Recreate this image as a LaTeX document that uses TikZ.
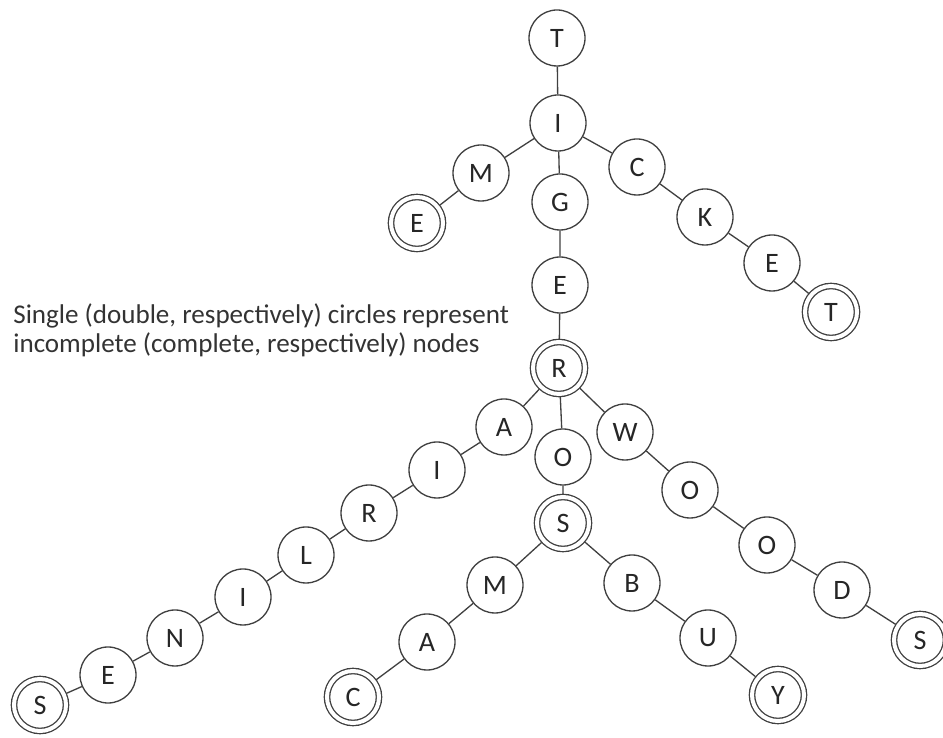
\documentclass[tikz,border=0pt]{standalone}
\usepackage{fontspec}
\setmainfont{Carlito}
\usepackage{tikz}

\begin{document}
\begin{tikzpicture}[
  letter/.style={draw=black!75,line width=0.75pt,circle,minimum size=1.12cm,inner sep=0pt,font=\fontsize{16}{18}\selectfont,text=black!85},
  final/.style={letter,double,double distance=0.08cm,minimum size=1.04cm,outer sep=0.06cm},
  link/.style={draw=black!75,line width=0.75pt}]
\useasboundingbox (0,0) rectangle (18.86,14.76);

% T-I-...
\node [letter] (t1) at (11.14,14.00) {T};
\node [letter] (i1) at (11.16,12.30) {I};
\node [letter] (m1) at (9.62,11.30) {M};
\node [final] (e1) at (8.34,10.30) {E};
\node [letter] (g) at (11.20,10.72) {G};
\node [letter] (c1) at (12.74,11.42) {C};
\node [letter] (k) at (14.10,10.42) {K};
\node [letter] (e2) at (15.44,9.50) {E};
\node [final] (t2) at (16.62,8.52) {T};
\node [letter] (e3) at (11.20,9.06) {E};
\node [final] (r1) at (11.18,7.40) {R};

% R-A-I-L-...
\node [letter] (a1) at (10.08,6.22) {A};
\node [letter] (i2) at (8.74,5.36) {I};
\node [letter] (r2) at (7.38,4.50) {R};
\node [letter] (l) at (6.12,3.66) {L};
\node [letter] (i3) at (4.86,2.82) {I};
\node [letter] (n) at (3.50,2.00) {N};
\node [letter] (e4) at (2.16,1.26) {E};
\node [final] (s1) at (0.80,0.66) {S};

% R-O-S and below
\node [letter] (o1) at (11.26,5.62) {O};
\node [final] (s2) at (11.26,4.30) {S};
\node [letter] (m2) at (9.90,3.06) {M};
\node [letter] (a2) at (8.54,1.92) {A};
\node [final] (c2) at (7.06,0.82) {C};
\node [letter] (b) at (12.64,3.10) {B};
\node [letter] (u) at (14.16,2.00) {U};
\node [final] (y) at (15.56,0.86) {Y};

% R-W-O-O-D-S
\node [letter] (w) at (12.50,6.12) {W};
\node [letter] (o2) at (13.80,4.96) {O};
\node [letter] (o3) at (15.34,3.86) {O};
\node [letter] (d) at (16.84,2.96) {D};
\node [final] (s3) at (18.40,1.96) {S};

\draw [link] (t1) -- (i1);
\draw [link] (i1) -- (m1) -- (e1);
\draw [link] (i1) -- (g) -- (e3) -- (r1);
\draw [link] (i1) -- (c1) -- (k) -- (e2) -- (t2);
\draw [link] (r1) -- (a1) -- (i2) -- (r2) -- (l) -- (i3) -- (n) -- (e4) -- (s1);
\draw [link] (r1) -- (o1) -- (s2);
\draw [link] (s2) -- (m2) -- (a2) -- (c2);
\draw [link] (s2) -- (b) -- (u) -- (y);
\draw [link] (r1) -- (w) -- (o2) -- (o3) -- (d) -- (s3);

\node [font=\fontsize{15.4}{16.5}\selectfont,align=left,anchor=west,inner sep=0pt,text=black!80] (note) at (0.26,8.16)
  {Single (double, respectively) circles represent\\incomplete (complete, respectively) nodes};
\end{tikzpicture}
\end{document}
